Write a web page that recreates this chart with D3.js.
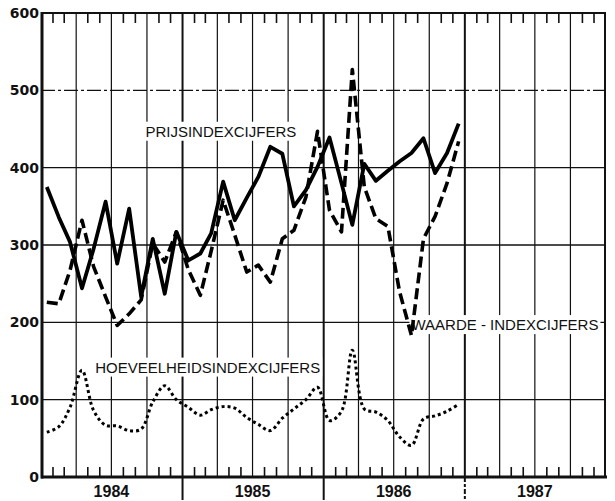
<!DOCTYPE html>
<html>
<head>
<meta charset="utf-8">
<script src="https://cdn.jsdelivr.net/npm/d3@7"></script>
<style>
body { margin: 0; background: #fff; }
svg { display: block; }
.grid { stroke: #111; fill: none; }
.lbl { font-family: "Liberation Sans", Arial, sans-serif; font-size: 15px; fill: #111; }
.ytick { font-family: "DejaVu Sans", sans-serif; font-weight: bold; font-size: 14px; fill: #111; }
.year { font-family: "Liberation Sans", Arial, sans-serif; font-weight: bold; font-size: 16px; fill: #111; }
</style>
</head>
<body>
<script>
// maandcijfers jan 1984 - dec 1986
var prijs = [375, 336, 304, 244, 295, 356, 276, 347, 233, 308, 237, 317,
             280, 289, 315, 382, 332, 361, 388, 427, 418, 350, 371, 401,
             439, 380, 326, 405, 383, 396, 408, 419, 438, 393, 419, 457];
var waarde = [226, 224, 267, 332, 272, 233, 196, 211, 229, 302, 278, 317,
              268, 235, 292, 358, 313, 265, 274, 252, 308, 319, 362, 447,
              345, 317, 527, 375, 334, 324, 240, 183, 308, 337, 380, 434];
var hoeveel = [58, 65, 90, 138, 86, 67, 66, 60, 62, 97, 118, 100,
               90, 80, 87, 91, 89, 77, 68, 60, 76, 88, 100, 116,
               73, 85, 164, 88, 84, 73, 52, 41, 75, 79, 85, 94];
var years = ["1984", "1985", "1986", "1987"];
var yTicks = [0, 100, 200, 300, 400, 500, 600];
var labels = [
    {text: "PRIJSINDEXCIJFERS", m: 8.9, v: 440},
    {text: "WAARDE - INDEXCIJFERS", m: 31.5, v: 190},
    {text: "HOEVEELHEIDSINDEXCIJFERS", m: 4.6, v: 135}
];

var W = 615, H = 501;
var x0 = 41, x1 = 606, yTop = 13, yBot = 477;

var svg = d3.select("body").append("svg")
    .attr("width", W)
    .attr("height", H);

var start = new Date(1984, 0, 1), end = new Date(1988, 0, 1);
var x = d3.scaleTime().domain([start, end]).range([x0, x1]);
var y = d3.scaleLinear().domain([0, 600]).range([yBot, yTop]);

var months = d3.timeMonth.range(new Date(1984, 0, 1), new Date(1987, 0, 1));
var allMonths = d3.timeMonth.range(start, end);
var quarters = d3.timeMonth.every(3).range(start, end);

// horizontale rasterlijnen
svg.selectAll("line.hgrid")
    .data(yTicks.filter(function (d) { return d > 0 && d < 600; }))
    .enter().append("line")
    .attr("class", "grid hgrid")
    .attr("x1", x0).attr("x2", x1)
    .attr("y1", function (d) { return y(d); })
    .attr("y2", function (d) { return y(d); })
    .attr("stroke-width", 1.4)
    .attr("stroke-dasharray", function (d) { return d == 500 ? "14,3,3,3" : null; });

// verticale rasterlijnen per kwartaal
svg.selectAll("line.vgrid")
    .data(quarters.filter(function (d) { return +d != +start; }))
    .enter().append("line")
    .attr("class", "grid vgrid")
    .attr("x1", function (d) { return x(d); })
    .attr("x2", function (d) { return x(d); })
    .attr("y1", yTop)
    .attr("y2", yBot)
    .attr("stroke-width", function (d) { return d.getMonth() == 0 ? 2 : 1.2; });

// jaargrenzen lopen door onder de as
svg.selectAll("line.yext")
    .data(quarters.filter(function (d) { return d.getMonth() == 0 && +d != +start; }))
    .enter().append("line")
    .attr("class", "grid yext")
    .attr("x1", function (d) { return x(d); })
    .attr("x2", function (d) { return x(d); })
    .attr("y1", yBot)
    .attr("y2", 500)
    .attr("stroke-width", 2)
    .attr("stroke-dasharray", function (d) { return d.getFullYear() == 1987 ? "5,2,3,2" : null; });

// maandstreepjes boven en onder
allMonths.forEach(function (d) {
    if (d.getMonth() % 3 == 0) return;
    svg.append("line").attr("class", "grid")
        .attr("x1", x(d)).attr("x2", x(d))
        .attr("y1", yTop).attr("y2", yTop + 10)
        .attr("stroke-width", 1.6);
    svg.append("line").attr("class", "grid")
        .attr("x1", x(d)).attr("x2", x(d))
        .attr("y1", yBot).attr("y2", yBot - 10)
        .attr("stroke-width", 1.6);
});

// kader
svg.append("line").attr("class", "grid").attr("stroke-width", 3)
    .attr("x1", x0 + 1).attr("x2", x0 + 1).attr("y1", yTop - 1).attr("y2", yBot + 1.5);
svg.append("line").attr("class", "grid").attr("stroke-width", 3)
    .attr("x1", x0).attr("x2", x1 + 1).attr("y1", yBot).attr("y2", yBot);
svg.append("line").attr("class", "grid").attr("stroke-width", 2)
    .attr("x1", x0).attr("x2", x1).attr("y1", yTop).attr("y2", yTop);
svg.append("line").attr("class", "grid").attr("stroke-width", 2)
    .attr("x1", x1 - 1).attr("x2", x1 - 1).attr("y1", yTop).attr("y2", yBot);

// y-as labels
svg.selectAll("text.ytick")
    .data(yTicks)
    .enter().append("text")
    .attr("class", "ytick")
    .attr("x", 39)
    .attr("y", function (d) { return y(d); })
    .attr("dy", "0.36em")
    .attr("text-anchor", "end")
    .text(function (d) { return d; });

// jaartallen
svg.selectAll("text.year")
    .data(years)
    .enter().append("text")
    .attr("class", "year")
    .attr("x", function (d) { return x(new Date(+d, 6, 1)); })
    .attr("y", 497)
    .attr("text-anchor", "middle")
    .text(function (d) { return d; });

// reekslabels met witte achtergrond
var mx = function (m) { return x(d3.timeDay.offset(start, m * 30.44)); };
labels.forEach(function (l) {
    var t = svg.append("text")
        .attr("class", "lbl")
        .attr("x", mx(l.m))
        .attr("y", y(l.v))
        .text(l.text);
    var b = t.node().getBBox();
    svg.insert("rect", function () { return t.node(); })
        .attr("x", b.x - 2).attr("y", b.y - 1)
        .attr("width", b.width + 4).attr("height", b.height + 2)
        .attr("fill", "#fff");
});

// reeksen
var mid = function (i) { return x(d3.timeDay.offset(months[i], 15)); };

function drawSeries(vals, width, dash, curve) {
    var line = d3.line()
        .x(function (d, i) { return mid(i); })
        .y(function (d) { return y(d); })
        .curve(curve);
    svg.append("path")
        .datum(vals)
        .attr("d", line)
        .attr("fill", "none")
        .attr("stroke", "#000")
        .attr("stroke-width", width)
        .attr("stroke-linejoin", "round")
        .attr("stroke-dasharray", dash);
}

drawSeries(hoeveel, 3, "3,3", d3.curveCatmullRom.alpha(0.5));
drawSeries(waarde, 3.6, "11,5", d3.curveLinear);
drawSeries(prijs, 3.8, null, d3.curveLinear);
</script>
</body>
</html>
